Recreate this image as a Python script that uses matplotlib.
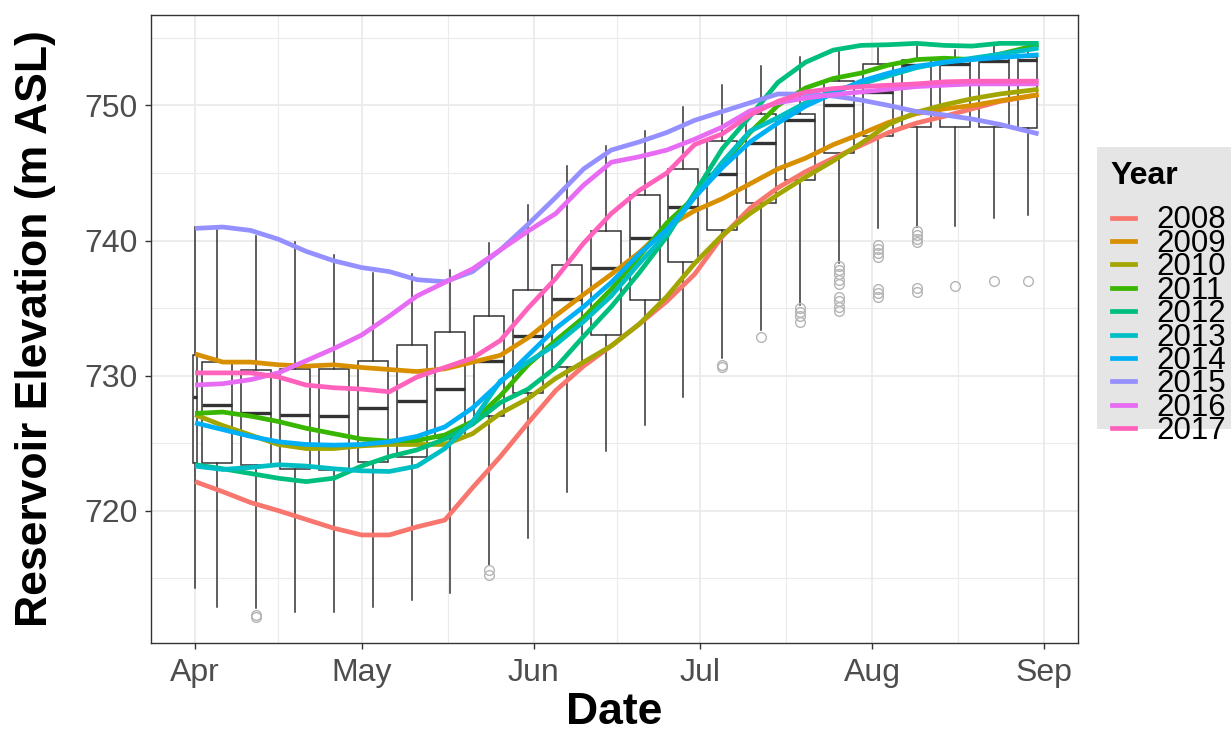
import numpy as np
import matplotlib
matplotlib.use("Agg")
import matplotlib.pyplot as plt
import matplotlib.dates as mdates
from matplotlib.lines import Line2D
from matplotlib.patches import Rectangle

plt.rcParams["font.family"] = ["Liberation Sans", "DejaVu Sans"]

# ---------------------------------------------------------------------------
# Data
# ---------------------------------------------------------------------------
season_start = np.datetime64("2017-04-01")

# Days after 1 April at which each year's elevation is sampled
sample_day = [0, 5, 10, 15, 20, 25, 30, 35, 40, 45, 50, 55, 60, 65, 70, 75,
              80, 85, 90, 95, 100, 105, 110, 115, 120, 125, 130, 135, 140,
              145, 152]

years = ["2008", "2009", "2010", "2011", "2012",
         "2013", "2014", "2015", "2016", "2017"]

elev_2008 = [722.15, 721.4, 720.6, 720.0, 719.35, 718.7, 718.2, 718.2, 718.8,
             719.3, 721.7, 724.0, 726.5, 728.9, 730.7, 732.2, 733.8, 735.5,
             737.5, 740.3, 742.4, 743.9, 745.1, 746.1, 747.05, 748.0, 748.7,
             749.2, 749.75, 750.3, 750.8]
elev_2009 = [731.6, 731.0, 731.0, 730.8, 730.7, 730.8, 730.6, 730.45, 730.3,
             730.5, 731.0, 731.5, 732.8, 734.45, 736.0, 737.5, 739.1, 741.0,
             742.2, 743.1, 744.2, 745.3, 746.1, 747.1, 747.9, 748.75, 749.4,
             749.75, 750.0, 750.35, 750.8]
elev_2010 = [727.1, 726.3, 725.6, 724.9, 724.6, 724.6, 724.8, 724.9, 724.9,
             724.9, 725.7, 727.2, 728.3, 729.8, 731.0, 732.2, 733.8, 735.85,
             738.3, 740.4, 742.0, 743.4, 744.7, 745.9, 747.2, 748.6, 749.5,
             750.05, 750.5, 750.85, 751.2]
elev_2011 = [727.2, 727.3, 727.0, 726.6, 726.1, 725.7, 725.3, 725.15, 725.2,
             725.6, 726.6, 728.5, 730.8, 732.6, 734.3, 736.4, 738.8, 741.3,
             743.2, 745.6, 748.0, 750.0, 751.3, 752.0, 752.4, 753.0, 753.4,
             753.5, 753.4, 753.8, 754.5]
elev_2012 = [723.4, 723.1, 722.75, 722.4, 722.15, 722.4, 723.3, 724.0, 724.5,
             725.3, 726.4, 728.0, 729.0, 730.6, 732.9, 735.1, 737.6, 740.3,
             743.5, 746.8, 749.2, 751.7, 753.2, 754.1, 754.45, 754.5, 754.6,
             754.45, 754.4, 754.6, 754.6]
elev_2013 = [723.3, 723.05, 723.2, 723.4, 723.3, 723.1, 722.95, 722.9, 723.3,
             724.6, 726.6, 729.6, 731.0, 732.3, 734.0, 735.9, 738.3, 740.5,
             743.2, 745.8, 748.1, 749.1, 750.2, 751.1, 751.6, 752.2, 752.8,
             753.2, 753.5, 753.8, 754.25]
elev_2014 = [726.5, 726.0, 725.5, 725.1, 724.9, 724.85, 724.9, 725.1, 725.5,
             726.2, 727.6, 729.5, 731.5, 733.5, 735.1, 736.9, 739.0, 740.8,
             743.2, 745.4, 747.3, 748.7, 749.95, 750.9, 751.8, 752.4, 752.9,
             753.2, 753.4, 753.55, 753.75]
elev_2015 = [740.9, 741.0, 740.75, 740.1, 739.2, 738.5, 738.0, 737.7, 737.1,
             736.95, 737.7, 739.3, 741.2, 743.2, 745.3, 746.7, 747.3, 748.0,
             748.9, 749.55, 750.2, 750.85, 750.85, 750.7, 750.4, 750.0,
             749.55, 749.3, 749.0, 748.6, 747.9]
elev_2016 = [729.3, 729.4, 729.7, 730.2, 731.1, 732.0, 733.0, 734.4, 735.9,
             736.9, 737.9, 739.3, 740.7, 742.0, 744.1, 745.8, 746.2, 746.7,
             747.5, 748.4, 749.6, 750.2, 750.55, 750.8, 751.0, 751.2, 751.4,
             751.5, 751.6, 751.6, 751.6]
elev_2017 = [730.2, 730.2, 730.2, 729.9, 729.3, 729.1, 729.0, 728.8, 729.9,
             730.6, 731.3, 732.6, 735.0, 737.2, 739.8, 742.0, 743.7, 745.0,
             747.1, 747.9, 749.3, 750.3, 751.0, 751.25, 751.4, 751.5, 751.6,
             751.75, 751.8, 751.8, 751.8]

year_series = [elev_2008, elev_2009, elev_2010, elev_2011, elev_2012,
               elev_2013, elev_2014, elev_2015, elev_2016, elev_2017]

year_colors = ["#F8766D", "#D89000", "#A3A500", "#39B600", "#00BF7D",
               "#00BFC4", "#00B0F6", "#9590FF", "#E76BF3", "#FF62BC"]

# Historical record summarised by week (days after 1 April)
week_start = [0, 1, 8, 15, 22, 29, 36, 43, 50, 57, 64, 71, 78, 85, 92, 99,
              106, 113, 120, 127, 134, 141, 148]
week_end = [0, 7, 14, 21, 28, 35, 42, 49, 56, 63, 70, 77, 84, 91, 98, 105,
            112, 119, 126, 133, 140, 147, 152]
box_low = [714.3, 712.9, 712.8, 712.5, 712.5, 712.85, 713.4, 713.9, 716.0,
           718.0, 721.4, 724.4, 726.35, 728.4, 731.3, 733.4, 735.2, 738.3,
           740.9, 741.0, 741.1, 741.7, 741.9]
box_q1 = [723.5, 723.5, 723.4, 723.1, 723.0, 723.6, 724.0, 725.4, 727.0,
          728.7, 730.6, 733.0, 735.6, 738.4, 740.8, 742.8, 744.5, 746.5,
          747.75, 748.4, 748.4, 748.4, 748.3]
box_median = [728.4, 727.8, 727.2, 727.1, 727.0, 727.6, 728.1, 729.0, 731.1,
              732.95, 735.7, 738.0, 740.2, 742.5, 744.9, 747.2, 748.9, 750.05,
              751.0, 753.0, 753.1, 753.3, 753.4]
box_q3 = [731.5, 731.0, 730.4, 730.5, 730.5, 731.1, 732.3, 733.2, 734.4,
          736.35, 738.2, 740.7, 743.4, 745.3, 747.4, 749.4, 749.4, 751.8,
          753.1, 753.4, 753.5, 753.5, 753.6]
box_high = [741.0, 740.8, 740.35, 739.9, 738.9, 737.6, 737.5, 737.8, 739.8,
            742.65, 745.5, 747.0, 748.1, 749.9, 751.5, 752.9, 753.6, 754.0,
            754.25, 754.4, 754.1, 754.4, 754.5]
box_outliers = [[], [], [712.3, 712.1], [], [], [], [], [], [715.6, 715.2],
                [], [], [], [], [], [730.8, 730.6], [732.85],
                [735.0, 734.7, 734.4, 734.0],
                [738.1, 737.8, 737.5, 737.1, 736.8, 735.8, 735.5, 735.1, 734.8],
                [739.7, 739.4, 739.1, 738.8, 736.4, 736.1, 735.8],
                [740.7, 740.4, 740.1, 739.9, 736.5, 736.2],
                [736.6], [737.0], [737.0]]

# ---------------------------------------------------------------------------
# Figure
# ---------------------------------------------------------------------------
W, H = 1231, 742
fig = plt.figure(figsize=(W / 100, H / 100), dpi=100)
fig.patch.set_facecolor("white")


def fx(px):
    return px / W


def fy(py):
    return 1 - py / H


ax = fig.add_axes([fx(150.7), fy(643), fx(1078) - fx(150.7), fy(15) - fy(643)])
base = mdates.date2num(season_start)

# weekly boxplots (ggplot-style widths: 90% of the week's span)
stats = []
positions = []
widths = []
for i in range(len(week_start)):
    s, e = week_start[i], week_end[i]
    positions.append(base + (s + e) / 2)
    widths.append(0.9 * (e - s) if e > s else 0.75)
    stats.append(dict(med=box_median[i], q1=box_q1[i], q3=box_q3[i],
                      whislo=box_low[i], whishi=box_high[i],
                      fliers=box_outliers[i]))

edge = "#333333"
ax.bxp(stats, positions=positions, widths=widths, showcaps=False,
       patch_artist=True, manage_ticks=False,
       boxprops=dict(facecolor="white", edgecolor=edge, linewidth=1.1),
       whiskerprops=dict(color=edge, linewidth=1.1),
       medianprops=dict(color=edge, linewidth=2.4),
       flierprops=dict(marker="o", markerfacecolor="none",
                       markeredgecolor="#B5B5B5", markersize=7,
                       markeredgewidth=1.0),
       zorder=2)

x_days = base + np.array(sample_day, dtype=float)
for yr, series, col in zip(years, year_series, year_colors):
    ax.plot(x_days, series, color=col, lw=3.4, solid_capstyle="butt",
            solid_joinstyle="round", zorder=3, label=yr)

# axes limits and scales
ax.set_xlim(base - 8.0, base + 159.1)
ax.set_ylim(710.2, 756.7)

month_starts = [base + d for d in (0, 30, 61, 91, 122, 153)]
ax.set_xticks(month_starts)
ax.xaxis.set_major_formatter(mdates.DateFormatter("%b"))
ax.set_xticks([(a + b) / 2 for a, b in zip(month_starts[:-1], month_starts[1:])],
              minor=True)
ax.set_yticks([720, 730, 740, 750])
ax.set_yticks([715, 725, 735, 745, 755], minor=True)

ax.grid(which="major", color="#EBEBEB", linewidth=1.3)
ax.grid(which="minor", color="#EBEBEB", linewidth=0.8)
ax.set_axisbelow(True)

ax.tick_params(which="major", length=4.5, width=1.0, color=edge,
               labelsize=23, labelcolor="#4D4D4D")
ax.tick_params(axis="y", which="major", pad=5)
ax.tick_params(axis="x", which="major", pad=6)
ax.tick_params(which="minor", length=0)
for sp in ax.spines.values():
    sp.set_color(edge)
    sp.set_linewidth(1.0)

# axis titles
fig.text(fx(614.4), fy(713), "Date", ha="center", va="center",
         fontsize=32, fontweight="bold", color="black")
fig.text(fx(36), fy(329), "Reservoir Elevation (m ASL)", ha="center",
         va="center", rotation=90, fontsize=32, fontweight="bold",
         color="black")

# legend panel
fig.patches.append(Rectangle((fx(1097), fy(429)), fx(1240) - fx(1097),
                             fy(147) - fy(429), transform=fig.transFigure,
                             facecolor="#E5E5E5", edgecolor="none", zorder=0))
fig.text(fx(1110), fy(184), "Year", ha="left", va="baseline",
         fontsize=23, fontweight="bold", color="black")
row0, row_step = 217.5, 23.4
for i, (yr, col) in enumerate(zip(years, year_colors)):
    yc = row0 + i * row_step
    fig.lines.append(Line2D([fx(1111.5), fx(1135)], [fy(yc), fy(yc)],
                            transform=fig.transFigure, color=col, lw=3.4))
    fig.text(fx(1156), fy(yc + 11), yr, ha="left", va="baseline",
             fontsize=22.5, color="black")

fig.savefig("out.png", dpi=100)
